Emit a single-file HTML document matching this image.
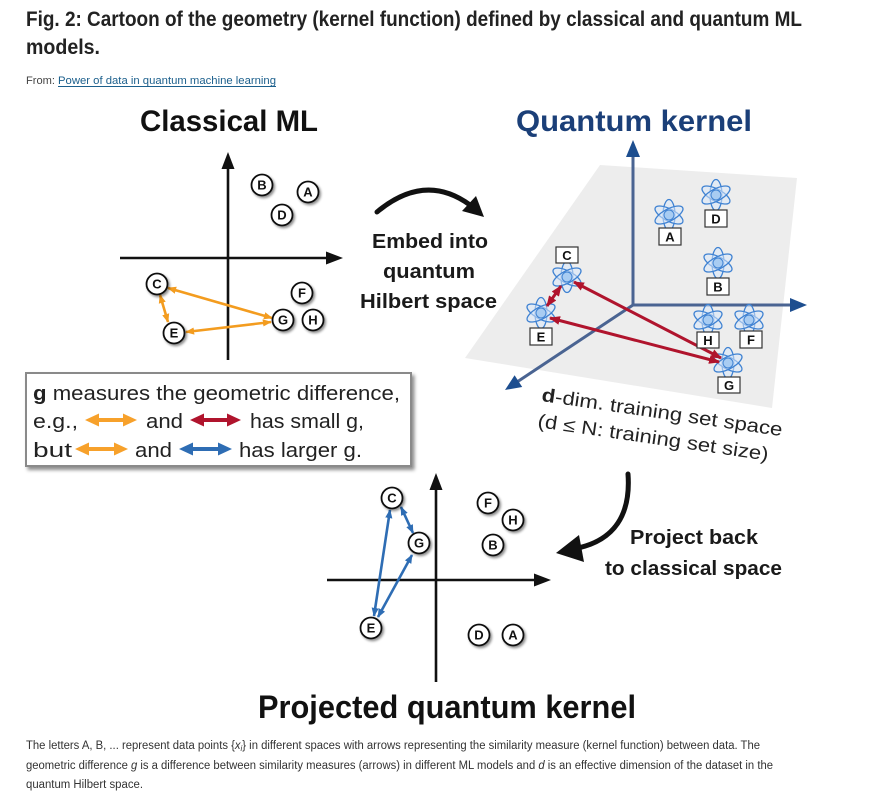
<!DOCTYPE html>
<html>
<head>
<meta charset="utf-8">
<style>
  html, body { margin:0; padding:0; background:#fff; }
  body { width:888px; height:798px; overflow:hidden; }
  svg { display:block; }
  .sans { font-family: "Liberation Sans", "DejaVu Sans", sans-serif; }
</style>
</head>
<body>
<svg width="888" height="798" viewBox="0 0 888 798" xmlns="http://www.w3.org/2000/svg" class="sans">
  <defs>
    <filter id="sh" x="-50%" y="-50%" width="200%" height="200%">
      <feDropShadow dx="1.6" dy="1.8" stdDeviation="1.2" flood-color="#000" flood-opacity="0.45"/>
    </filter>
    <filter id="boxsh" x="-10%" y="-20%" width="120%" height="140%">
      <feDropShadow dx="2.5" dy="3" stdDeviation="1.8" flood-color="#000" flood-opacity="0.45"/>
    </filter>
    <marker id="mo" viewBox="0 0 10 8" refX="9" refY="4" markerWidth="9" markerHeight="8" orient="auto-start-reverse" markerUnits="userSpaceOnUse">
      <path d="M0,0L10,4L0,8z" fill="#f39c1f"/>
    </marker>
    <marker id="mb" viewBox="0 0 10 8" refX="9" refY="4" markerWidth="9" markerHeight="8" orient="auto-start-reverse" markerUnits="userSpaceOnUse">
      <path d="M0,0L10,4L0,8z" fill="#2e6db4"/>
    </marker>
    <marker id="mr" viewBox="0 0 10 8" refX="9" refY="4" markerWidth="11" markerHeight="9" orient="auto-start-reverse" markerUnits="userSpaceOnUse">
      <path d="M0,0L10,4L0,8z" fill="#b0142d"/>
    </marker>
    <g id="atom">
      <ellipse rx="15.5" ry="6" fill="#d8e8f9" fill-opacity="0.55" stroke="#3f82d2" stroke-width="1.3" transform="rotate(90)"/>
      <ellipse rx="15.5" ry="6" fill="#d8e8f9" fill-opacity="0.55" stroke="#3f82d2" stroke-width="1.3" transform="rotate(28)"/>
      <ellipse rx="15.5" ry="6" fill="#d8e8f9" fill-opacity="0.55" stroke="#3f82d2" stroke-width="1.3" transform="rotate(-28)"/>
      <circle r="5" fill="#a8ccf2" stroke="#3f82d2" stroke-width="1"/>
    </g>
  </defs>

  <!-- Header -->
  <text x="26" y="26" font-family="'Liberation Sans Narrow','Liberation Sans',sans-serif" font-weight="bold" font-size="21" fill="#222" textLength="776" lengthAdjust="spacingAndGlyphs">Fig. 2: Cartoon of the geometry (kernel function) defined by classical and quantum ML</text>
  <text x="26" y="54" font-family="'Liberation Sans Narrow','Liberation Sans',sans-serif" font-weight="bold" font-size="21" fill="#222" textLength="74" lengthAdjust="spacingAndGlyphs">models.</text>
  <text x="26" y="84" font-size="11" fill="#444" textLength="29" lengthAdjust="spacingAndGlyphs">From:</text>
  <text x="58" y="84" font-size="11" fill="#1b5f8c" textLength="218" lengthAdjust="spacingAndGlyphs">Power of data in quantum machine learning</text>
  <line x1="58" y1="86.5" x2="276" y2="86.5" stroke="#1b5f8c" stroke-width="1"/>

  <!-- Titles -->
  <text x="140" y="131" font-weight="bold" font-size="30" fill="#111" textLength="178" lengthAdjust="spacingAndGlyphs">Classical ML</text>
  <text x="516" y="131" font-weight="bold" font-size="30" fill="#1b3f78" textLength="236" lengthAdjust="spacingAndGlyphs">Quantum kernel</text>
  <text x="258" y="718" font-weight="bold" font-size="32" fill="#111" textLength="378" lengthAdjust="spacingAndGlyphs">Projected quantum kernel</text>

  <!-- ===== Classical ML plot ===== -->
  <line x1="228" y1="360" x2="228" y2="166" stroke="#111" stroke-width="2.6"/>
  <polygon points="228,152 221.5,169 234.5,169" fill="#111"/>
  <line x1="120" y1="258" x2="328" y2="258" stroke="#111" stroke-width="2.6"/>
  <polygon points="343,258 326,251.5 326,264.5" fill="#111"/>

  <!-- orange arrows -->
  <g stroke="#f39c1f" stroke-width="2.6" fill="none" marker-start="url(#mo)" marker-end="url(#mo)">
    <line x1="168" y1="288" x2="272" y2="318"/>
    <line x1="160" y1="295" x2="168" y2="322"/>
    <line x1="186" y1="332" x2="271" y2="322"/>
  </g>

  <g font-size="13" font-weight="bold" fill="#111" text-anchor="middle">
    <g filter="url(#sh)" fill="#fff" stroke="#111" stroke-width="1.8">
      <circle cx="262" cy="185" r="10.5"/>
      <circle cx="308" cy="192" r="10.5"/>
      <circle cx="282" cy="215" r="10.5"/>
      <circle cx="157" cy="284" r="10.5"/>
      <circle cx="302" cy="293" r="10.5"/>
      <circle cx="283" cy="320" r="10.5"/>
      <circle cx="313" cy="320" r="10.5"/>
      <circle cx="174" cy="333" r="10.5"/>
    </g>
    <text x="262" y="189.7">B</text>
    <text x="308" y="196.7">A</text>
    <text x="282" y="219.7">D</text>
    <text x="157" y="288.7">C</text>
    <text x="302" y="297.7">F</text>
    <text x="283" y="324.7">G</text>
    <text x="313" y="324.7">H</text>
    <text x="174" y="337.7">E</text>
  </g>

  <!-- Legend box -->
  <rect x="26" y="373" width="385" height="93" fill="#fff" stroke="#8a8a8a" stroke-width="2" filter="url(#boxsh)"/>
  <g font-size="20" fill="#222">
    <text x="33" y="400" textLength="367" lengthAdjust="spacingAndGlyphs"><tspan font-weight="bold">g</tspan> measures the geometric difference,</text>
    <text x="33" y="428" textLength="45" lengthAdjust="spacingAndGlyphs">e.g.,</text>
    <text x="146" y="428" textLength="37" lengthAdjust="spacingAndGlyphs">and</text>
    <text x="250" y="428" textLength="114" lengthAdjust="spacingAndGlyphs">has small g,</text>
    <text x="33" y="457" textLength="39" lengthAdjust="spacingAndGlyphs">but</text>
    <text x="135" y="457" textLength="37" lengthAdjust="spacingAndGlyphs">and</text>
    <text x="239" y="457" textLength="123" lengthAdjust="spacingAndGlyphs">has larger g.</text>
  </g>
  <path d="M85,420 L99,413.5 L99,418 L123,418 L123,413.5 L137,420 L123,426.5 L123,422 L99,422 L99,426.5 Z" fill="#f7a12b"/>
  <path d="M190,420 L204,413.5 L204,418 L227,418 L227,413.5 L241,420 L227,426.5 L227,422 L204,422 L204,426.5 Z" fill="#b0142d"/>
  <path d="M75,449 L89,442.5 L89,447 L114,447 L114,442.5 L128,449 L114,455.5 L114,451 L89,451 L89,455.5 Z" fill="#f7a12b"/>
  <path d="M179,449 L193,442.5 L193,447 L218,447 L218,442.5 L232,449 L218,455.5 L218,451 L193,451 L193,455.5 Z" fill="#2e6db4"/>

  <!-- Embed arrow + text -->
  <path d="M377,212 Q425,172 470,205" stroke="#111" stroke-width="5" fill="none" stroke-linecap="round"/>
  <polygon points="484,217 462,211 476,196" fill="#111"/>
  <g font-size="20" font-weight="bold" fill="#1a1a1a">
    <text x="372" y="248" textLength="116" lengthAdjust="spacingAndGlyphs">Embed into</text>
    <text x="383" y="278" textLength="92" lengthAdjust="spacingAndGlyphs">quantum</text>
    <text x="360" y="308" textLength="137" lengthAdjust="spacingAndGlyphs">Hilbert space</text>
  </g>

  <!-- ===== Quantum kernel ===== -->
  <polygon points="600,165 797,178 772,408 465,358" fill="#ededed"/>
  <g stroke="#4a6492" stroke-width="3" fill="none">
    <line x1="633" y1="305" x2="633" y2="154"/>
    <line x1="633" y1="305" x2="792" y2="305"/>
    <line x1="633" y1="305" x2="517" y2="382"/>
  </g>
  <g fill="#1d4e8f">
    <polygon points="633,140 626,157 640,157"/>
    <polygon points="807,305 790,298 790,312"/>
    <polygon points="505,390 522.2,387 514.6,375.3"/>
  </g>

  <use href="#atom" x="669" y="215"/>
  <use href="#atom" x="716" y="195"/>
  <use href="#atom" x="718" y="263"/>
  <use href="#atom" x="708" y="320"/>
  <use href="#atom" x="749" y="320"/>
  <use href="#atom" x="728" y="363"/>
  <use href="#atom" x="567" y="277"/>
  <use href="#atom" x="541" y="313"/>

  <g stroke="#b0142d" stroke-width="3" fill="none" marker-start="url(#mr)" marker-end="url(#mr)">
    <line x1="561" y1="286" x2="547" y2="306"/>
    <line x1="574" y1="282" x2="721" y2="358"/>
    <line x1="550" y1="318" x2="719" y2="362"/>
  </g>

  <g font-size="13" font-weight="bold" fill="#111" text-anchor="middle">
    <g fill="#fff" stroke="#333" stroke-width="1.2">
      <rect x="659" y="228" width="22" height="17"/>
      <rect x="705" y="210" width="22" height="17"/>
      <rect x="707" y="278" width="22" height="17"/>
      <rect x="697" y="332" width="22" height="16"/>
      <rect x="740" y="331" width="22" height="17"/>
      <rect x="718" y="377" width="22" height="16"/>
      <rect x="556" y="247" width="22" height="16"/>
      <rect x="530" y="328" width="22" height="17"/>
    </g>
    <text x="670" y="241.5">A</text>
    <text x="716" y="223.5">D</text>
    <text x="718" y="291.5">B</text>
    <text x="708" y="345">H</text>
    <text x="751" y="344.5">F</text>
    <text x="729" y="390">G</text>
    <text x="567" y="260">C</text>
    <text x="541" y="341.5">E</text>
  </g>

  <!-- d-dim text -->
  <g font-size="19" fill="#222">
    <text x="541" y="401" transform="rotate(8.3 541 401)" textLength="243" lengthAdjust="spacingAndGlyphs"><tspan font-weight="bold">d</tspan>-dim. training set space</text>
    <text x="537" y="427" transform="rotate(8.3 537 427)" textLength="233" lengthAdjust="spacingAndGlyphs">(d ≤ N: training set size)</text>
  </g>

  <!-- Project back arrow + text -->
  <path d="M628,474 C631,515 614,540 578,548" stroke="#111" stroke-width="5" fill="none" stroke-linecap="round"/>
  <polygon points="556,553 579,535 584,562" fill="#111"/>
  <g font-size="20" font-weight="bold" fill="#1a1a1a">
    <text x="630" y="544" textLength="128" lengthAdjust="spacingAndGlyphs">Project back</text>
    <text x="605" y="575" textLength="177" lengthAdjust="spacingAndGlyphs">to classical space</text>
  </g>

  <!-- ===== Projected quantum kernel plot ===== -->
  <line x1="436" y1="682" x2="436" y2="488" stroke="#111" stroke-width="2.6"/>
  <polygon points="436,473 429.5,490 442.5,490" fill="#111"/>
  <line x1="327" y1="580" x2="536" y2="580" stroke="#111" stroke-width="2.6"/>
  <polygon points="551,580 534,573.5 534,586.5" fill="#111"/>

  <g stroke="#2e6db4" stroke-width="2.6" fill="none" marker-start="url(#mb)" marker-end="url(#mb)">
    <line x1="390" y1="510" x2="374" y2="616"/>
    <line x1="401" y1="507" x2="413" y2="533"/>
    <line x1="378" y1="617" x2="412" y2="555"/>
  </g>

  <g font-size="13" font-weight="bold" fill="#111" text-anchor="middle">
    <g filter="url(#sh)" fill="#fff" stroke="#111" stroke-width="1.8">
      <circle cx="392" cy="498" r="10.5"/>
      <circle cx="419" cy="543" r="10.5"/>
      <circle cx="371" cy="628" r="10.5"/>
      <circle cx="488" cy="503" r="10.5"/>
      <circle cx="513" cy="520" r="10.5"/>
      <circle cx="493" cy="545" r="10.5"/>
      <circle cx="479" cy="635" r="10.5"/>
      <circle cx="513" cy="635" r="10.5"/>
    </g>
    <text x="392" y="502.7">C</text>
    <text x="419" y="547.7">G</text>
    <text x="371" y="632.7">E</text>
    <text x="488" y="507.7">F</text>
    <text x="513" y="524.7">H</text>
    <text x="493" y="549.7">B</text>
    <text x="479" y="639.7">D</text>
    <text x="513" y="639.7">A</text>
  </g>

  <!-- Caption -->
  <g font-family="'Liberation Sans Narrow','Liberation Sans',sans-serif" font-size="11.5" fill="#333">
    <text x="26" y="749" textLength="734" lengthAdjust="spacingAndGlyphs">The letters A, B, ... represent data points {<tspan font-style="italic">x</tspan><tspan font-size="8" dy="2" font-style="italic">i</tspan><tspan dy="-2">} in different spaces with arrows representing the similarity measure (kernel function) between data. The</tspan></text>
    <text x="26" y="769" textLength="747" lengthAdjust="spacingAndGlyphs">geometric difference <tspan font-style="italic">g</tspan> is a difference between similarity measures (arrows) in different ML models and <tspan font-style="italic">d</tspan> is an effective dimension of the dataset in the</text>
    <text x="26" y="788" textLength="117" lengthAdjust="spacingAndGlyphs">quantum Hilbert space.</text>
  </g>
</svg>
</body>
</html>
